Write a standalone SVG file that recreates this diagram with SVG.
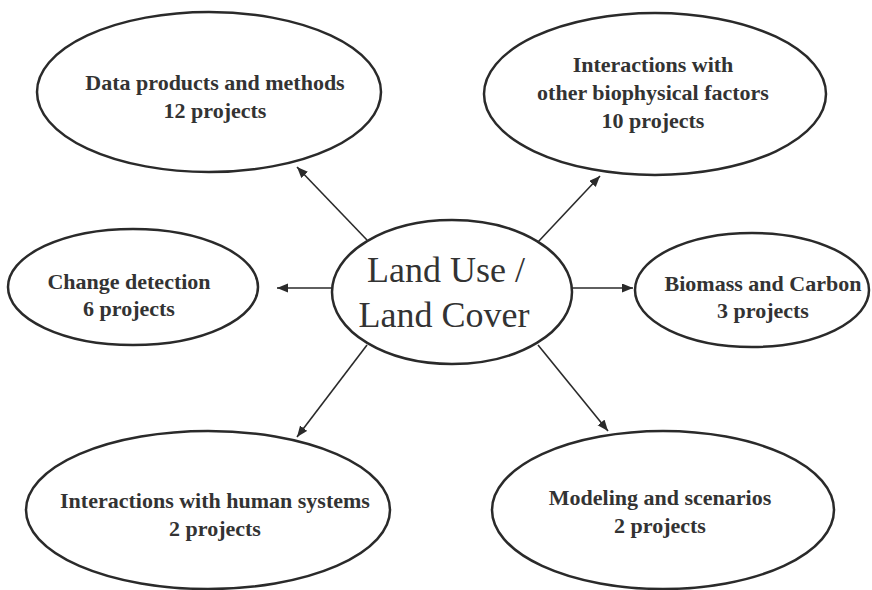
<svg xmlns="http://www.w3.org/2000/svg" width="872" height="590" viewBox="0 0 872 590">
<style>
.node ellipse{fill:#fff;stroke:#2a2a2a;stroke-width:2.5}
.lbl{font-family:'Liberation Serif','Times New Roman','DejaVu Serif',serif;font-weight:bold;font-size:22px;fill:#333;text-anchor:middle}
.big{font-family:'Liberation Serif','Times New Roman','DejaVu Serif',serif;font-size:36px;fill:#333;text-anchor:middle}
#connectors line{stroke:#2a2a2a;stroke-width:1.6;marker-end:url(#ah)}
</style>
<defs>
<marker id="ah" markerUnits="userSpaceOnUse" markerWidth="12" markerHeight="10" refX="11" refY="4.5" orient="auto">
<path d="M0,0 L11,4.5 L0,9 z" fill="#2a2a2a"/>
</marker>
</defs>
<rect width="872" height="590" fill="#fff"/>
<g id="connectors">
<line x1="367" y1="240" x2="297" y2="167"/>
<line x1="538" y1="242" x2="600" y2="176"/>
<line x1="333" y1="288" x2="277" y2="288"/>
<line x1="572" y1="288" x2="633" y2="288"/>
<line x1="367" y1="345" x2="297" y2="437"/>
<line x1="538" y1="345" x2="608" y2="431"/>
</g>
<g id="data-products" class="node">
<ellipse cx="209" cy="92" rx="172" ry="80"/>
<text class="lbl" x="215" y="90">Data products and methods</text>
<text class="lbl" x="215" y="118">12 projects</text>
</g>
<g id="biophysical" class="node">
<ellipse cx="655" cy="94" rx="171" ry="81"/>
<text class="lbl" x="653" y="72">Interactions with</text>
<text class="lbl" x="653" y="100">other biophysical factors</text>
<text class="lbl" x="653" y="128">10 projects</text>
</g>
<g id="change-detection" class="node">
<ellipse cx="133" cy="287" rx="125" ry="58"/>
<text class="lbl" x="129" y="289">Change detection</text>
<text class="lbl" x="129" y="316">6 projects</text>
</g>
<g id="lulc" class="node">
<ellipse cx="452" cy="292" rx="120" ry="72"/>
<text class="big" x="446" y="282">Land Use /</text>
<text class="big" x="444" y="327">Land Cover</text>
</g>
<g id="biomass" class="node">
<ellipse cx="752" cy="290" rx="117" ry="57"/>
<text class="lbl" x="763" y="291">Biomass and Carbon</text>
<text class="lbl" x="763" y="318">3 projects</text>
</g>
<g id="human-systems" class="node">
<ellipse cx="208" cy="510" rx="182" ry="79"/>
<text class="lbl" x="215" y="508">Interactions with human systems</text>
<text class="lbl" x="215" y="536">2 projects</text>
</g>
<g id="modeling" class="node">
<ellipse cx="663" cy="510" rx="171" ry="79"/>
<text class="lbl" x="660" y="505">Modeling and  scenarios</text>
<text class="lbl" x="660" y="533">2 projects</text>
</g>
</svg>
